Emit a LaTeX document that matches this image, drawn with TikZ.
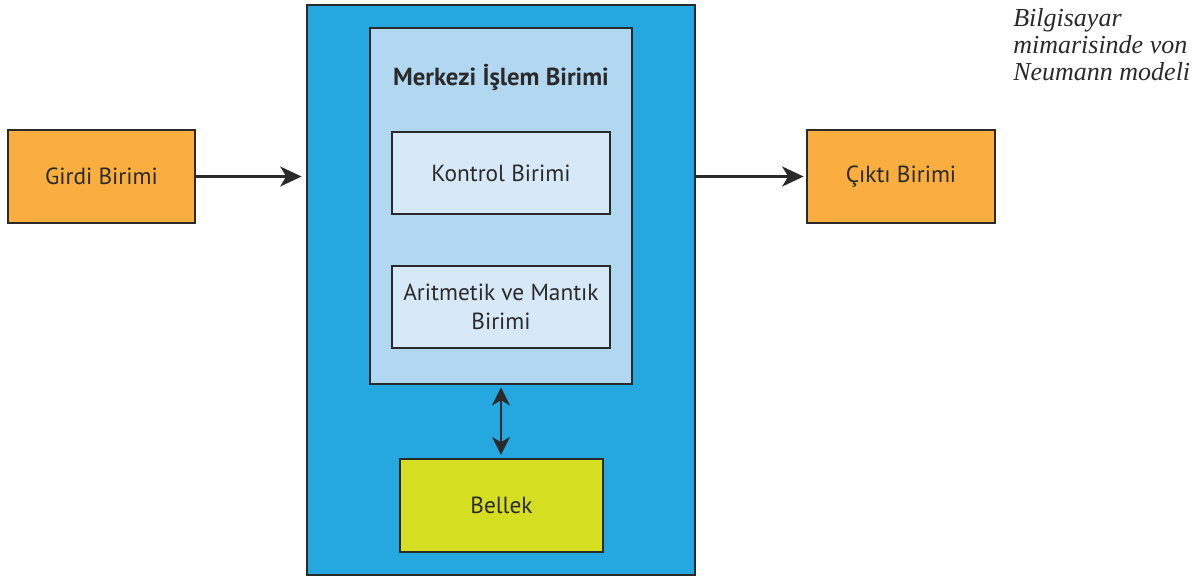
\documentclass[tikz,border=0pt]{standalone}
\usepackage{fontspec}
\setmainfont{PT Sans}
\newfontfamily\capfont{Liberation Serif}
\usetikzlibrary{arrows.meta}
\definecolor{bigblue}{HTML}{25A8E0}
\definecolor{cpublue}{HTML}{B2D7F1}
\definecolor{unitblue}{HTML}{D7E9F7}
\definecolor{orangebox}{HTML}{F9AE3F}
\definecolor{yellowbox}{HTML}{D6DE22}
\definecolor{edge}{HTML}{2A2A2A}
\tikzset{
  box/.style={draw=edge, line width=2.2pt, rectangle, align=center, text=edge, font=\fontsize{17.5}{21.75}\selectfont},
  conn/.style={draw=edge, line width=1.6pt, -{Stealth[length=16pt,width=15pt,inset=4.5pt]}},
  dconn/.style={draw=edge, line width=1.6pt, {Stealth[length=13.5pt,width=13.5pt,inset=4pt]}-{Stealth[length=13.5pt,width=13.5pt,inset=4pt]}}
}
\begin{document}
\begin{tikzpicture}[x=0.75pt,y=-0.75pt]
\useasboundingbox[fill=white] (0,0) rectangle (1198,576);
\node[box, fill=bigblue, minimum width=291pt, minimum height=427.5pt] (big) at (501,290) {};
\node[box, fill=cpublue, minimum width=196.5pt, minimum height=267pt] (cpu) at (501,206) {};
\node[text=edge, font=\bfseries\fontsize{18.5}{22}\selectfont] (cputitle) at (501,77) {Merkezi İşlem Birimi};
\node[box, fill=unitblue, minimum width=163.5pt, minimum height=61.5pt] (ctrl) at (501,173) {Kontrol Birimi};
\node[box, fill=unitblue, minimum width=163.5pt, minimum height=61.5pt] (alu) at (501,307) {Aritmetik ve Mantık\\Birimi};
\node[box, fill=yellowbox, minimum width=152.25pt, minimum height=69.75pt] (mem) at (501.5,505.5) {Bellek};
\node[box, fill=orangebox, minimum width=140.25pt, minimum height=69.75pt] (in) at (101.5,176.5) {Girdi Birimi};
\node[box, fill=orangebox, minimum width=141pt, minimum height=69.75pt] (out) at (901,176.5) {Çıktı Birimi};
\node[anchor=north west, align=left, inner sep=0pt, text=edge, font=\capfont\itshape\fontsize{19.5}{20.25}\selectfont] (cap) at (1013,8) {Bilgisayar\\mimarisinde von\\Neumann modeli};
\draw[conn, shorten >=3pt] (in.east) -- (in.east -| big.west);
\draw[conn, shorten >=1.5pt] (big.east |- out.west) -- (out.west);
\draw[dconn, shorten <=1.5pt, shorten >=2pt] (cpu.south) -- (cpu.south |- mem.north);
\end{tikzpicture}
\end{document}
